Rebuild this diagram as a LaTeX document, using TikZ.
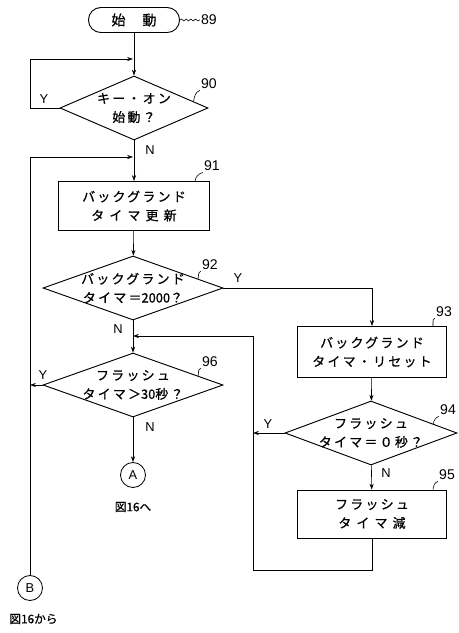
\documentclass[tikz,border=0pt]{standalone}
\usepackage{fontspec}
\newfontfamily\jpfont[LetterSpace=18, FakeBold=0.8]{Noto Sans CJK JP}
\newfontfamily\jptight[FakeBold=0.8]{Noto Sans CJK JP}
\newfontfamily\numfont{Liberation Sans}
\usetikzlibrary{shapes.geometric, arrows.meta, calc, decorations.pathmorphing}
\tikzset{
  jptext/.style={font=\fontsize{11}{16}\selectfont\jpfont, align=center, inner sep=1pt},
  figref/.style={font=\fontsize{10}{12}\selectfont\jptight, inner sep=1pt},
  procbox/.style={draw, line width=0.8pt, rectangle, inner sep=0pt, jptext},
  decision/.style={draw, line width=0.8pt, diamond, inner sep=0pt},
  startbox/.style={draw, line width=0.8pt, rectangle, rounded corners=0.37cm,
    minimum width=2.73cm, minimum height=0.75cm, inner sep=0pt,
    font=\fontsize{12}{12}\selectfont\jpfont},
  connector/.style={draw, line width=0.7pt, circle, minimum size=0.75cm, inner sep=0pt,
    font=\numfont\fontsize{11}{11}\selectfont},
  refnum/.style={font=\numfont\fontsize{12}{12}\selectfont, inner sep=1pt},
  yntext/.style={font=\numfont\fontsize{11}{11}\selectfont, inner sep=1pt},
  flow/.style={line width=0.5pt, ->},
  leader/.style={line width=0.5pt}
}
\begin{document}
\begin{tikzpicture}[x=0.03cm, y=-0.03cm, >={Stealth[length=5pt,width=3.5pt]}]
  \useasboundingbox (0,0) rectangle (459,633);
  % main column
  \node[startbox] (start) at (134,20) {始\hspace{1.2em}動};
  \node[decision, minimum width=4.44cm, minimum height=1.92cm] (d90) at (134,108) {};
  \node[jptext] (t90) at (d90.center) {キー・オン\\始動？};
  \node[procbox, minimum width=4.53cm, minimum height=1.47cm] (b91) at (134,206) {バックグランド\\タ イ マ 更 新};
  \node[decision, minimum width=5.4cm, minimum height=1.92cm] (d92) at (133,288) {};
  \node[jptext] (t92) at (d92.center) {バックグランド\\タイマ＝{\jptight 2000}？};
  \node[decision, minimum width=5.4cm, minimum height=1.92cm] (d96) at (133,385) {};
  \node[jptext] (t96) at (d96.center) {フラッシュ\\タイマ＞{\jptight 30}秒？};
  \node[connector] (ca) at (133,475) {A};
  \node[figref] (fa) at (133,507) {図16へ};
  % right column
  \node[procbox, minimum width=4.47cm, minimum height=1.53cm] (b93) at (372,352) {バックグランド\\タイマ・リセット};
  \node[decision, minimum width=5.16cm, minimum height=1.92cm] (d94) at (371,433) {};
  \node[jptext] (t94) at (d94.center) {フラッシュ\\タイマ＝０秒？};
  \node[procbox, minimum width=4.47cm, minimum height=1.44cm] (b95) at (372,514) {フラッシュ\\タ イ マ 減};
  % connector B
  \node[connector] (cb) at (30,588) {B};
  \node[figref, anchor=west] (fb) at (8,619) {図16から};
  % junctions
  \coordinate (j1) at (133,59);
  \coordinate (l1) at (30,59);
  \coordinate (j2) at (133,157);
  \coordinate (l2) at (30,157);
  \coordinate (j3) at (133,336);
  \coordinate (r1) at (253,570);
  \coordinate (r2) at (253,433);
  \coordinate (l3) at (30,385);
  % flow lines
  \draw[flow] (start) -- (d90);
  \draw[flow] (d90.west) -| (l1) -- (j1);
  \draw[flow] (d90) -- (b91);
  \draw[flow] (cb) -- (l2) -- (j2);
  \draw[flow] (b91) -- (d92);
  \draw[flow] (d92.east) -| (b93.north);
  \draw[flow] (d92) -- (d96);
  \draw[flow] (d96) -- (ca);
  \draw[flow] (d96.west) -- (l3);
  \draw[flow] (b93) -- (d94);
  \draw[flow] (d94) -- (b95);
  \draw[flow] (d94.west) -- (r2);
  \draw[flow] (b95.south) |- (r1) |- (j3);
  % Y / N
  \node[yntext] (y90) at (44,99) {Y};
  \node[yntext] (n90) at (150,150) {N};
  \node[yntext] (y92) at (238,278) {Y};
  \node[yntext] (n92) at (118,329) {N};
  \node[yntext] (y96) at (43,375) {Y};
  \node[yntext] (n96) at (150,427) {N};
  \node[yntext] (y94) at (268,424) {Y};
  \node[yntext] (n94) at (386,473) {N};
  % reference numbers
  \node[refnum] (n89) at (209,20) {89};
  \node[refnum] (n90r) at (209,84) {90};
  \node[refnum] (n91r) at (212,166) {91};
  \node[refnum] (n92r) at (210,265) {92};
  \node[refnum] (n96r) at (210,362) {96};
  \node[refnum] (n93r) at (444,312) {93};
  \node[refnum] (n94r) at (448,410) {94};
  \node[refnum] (n95r) at (447,475) {95};
  \draw[leader, decorate, decoration={snake, amplitude=0.8pt, segment length=4pt}] (start.east) -- (n89.west);
  \draw[leader] ($(d90.north)!0.8!(d90.east)$) to[out=80, in=200] (n90r.south west);
  \draw[leader] ($(b91.north east)+(-15,0)$) to[out=80, in=200] (n91r.south west);
  \draw[leader] ($(d92.north)!0.72!(d92.east)$) to[out=80, in=200] (n92r.south west);
  \draw[leader] ($(d96.north)!0.72!(d96.east)$) to[out=80, in=200] (n96r.south west);
  \draw[leader] ($(b93.north east)+(-14,0)$) to[out=80, in=200] (n93r.south west);
  \draw[leader] ($(d94.north)!0.72!(d94.east)$) to[out=80, in=200] (n94r.south west);
  \draw[leader] ($(b95.north east)+(-14,0)$) to[out=80, in=200] (n95r.south west);
\end{tikzpicture}
\end{document}
